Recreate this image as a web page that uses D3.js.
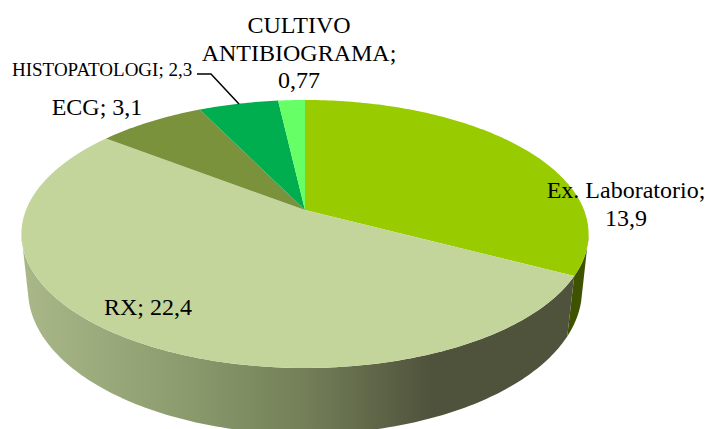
<!DOCTYPE html>
<html>
<head>
<meta charset="utf-8">
<script src="https://cdn.jsdelivr.net/npm/d3@7"></script>
<style>
body { margin: 0; background: #fff; }
text { font-family: "Liberation Serif", serif; fill: #000; }
</style>
</head>
<body>
<script>
//chart values
var categories = ['Ex. Laboratorio', 'RX', 'ECG', 'HISTOPATOLOGI', 'CULTIVO ANTIBIOGRAMA'];
var values = [13.9, 22.4, 3.1, 2.3, 0.77];
var value_labels = ['13,9', '22,4', '3,1', '2,3', '0,77'];
var top_colors = ['#99cc00', '#c3d59b', '#7a923c', '#00ae50', '#66ff66'];

//hardcoded parameters
var svg_width = 706, svg_height = 429;
var apex = [305, 210];
var rad_x = 279, rad_y = 129.7, persp = 0.179;
var base = {cx: 305, cy: 290, rx: 277, ry: 144};
var wall_shrink = 0.974;

var svg = d3.select('body').append('svg')
    .attr('width', svg_width)
    .attr('height', svg_height)
    .style('display', 'block');

//tilted circle -> screen, the apex sits above the ellipse centre
function project(angle) {
    var u = Math.sin(angle), v = -Math.cos(angle);
    var d = 1 - persp * v;
    return [apex[0] + rad_x * u / d, apex[1] + rad_y * v / d];
}
function arc_points(a0, a1) {
    var n = Math.max(2, Math.ceil((a1 - a0) * 60));
    return d3.range(n + 1).map(function(i) { return project(a0 + (a1 - a0) * i / n); });
}
var line = d3.line();

var slices = d3.pie().sort(null)(values);

//side gradient
var defs = svg.append('defs');
var grad = defs.append('linearGradient')
    .attr('id', 'side')
    .attr('gradientUnits', 'userSpaceOnUse')
    .attr('x1', 21).attr('x2', 589).attr('y1', 0).attr('y2', 0);
[[0, '#aab889'], [0.3, '#8a9a6c'], [0.5, '#737f58'], [0.72, '#50533c'], [1, '#50533c']].forEach(function(s) {
    grad.append('stop').attr('offset', s[0]).attr('stop-color', s[1]);
});

//angles where the top ellipse is widest, the wall starts there
var wide_v = 0.1863;
var wide_right = Math.acos(-wide_v);
var wide_left = 2 * Math.PI - wide_right;

//wall: rim of the top and the matching stretch of the lower ellipse
function wall(a0, a1, fill) {
    var top_rim = arc_points(a0, a1);
    var low_rim = top_rim.map(function(p) {
        var x = (p[0] - apex[0]) * wall_shrink;
        var t = Math.max(-1, Math.min(1, x / base.rx));
        return [base.cx + base.rx * t, base.cy + base.ry * Math.sqrt(1 - t * t)];
    }).reverse();
    svg.append('path').attr('d', line(top_rim.concat(low_rim)) + 'Z').attr('fill', fill);
}
wall(wide_right, slices[0].endAngle, '#3f5200');
wall(slices[1].startAngle, wide_left, 'url(#side)');

//top slices
svg.append('g').selectAll('path').data(slices).enter().append('path')
    .attr('d', function(d) {
        return line([apex].concat(arc_points(d.startAngle, d.endAngle))) + 'Z';
    })
    .attr('fill', function(d, i) { return top_colors[i]; });

//labels
function label(lines, x, y, size) {
    var t = svg.append('text').attr('text-anchor', 'middle').attr('font-size', size);
    lines.forEach(function(s, i) {
        t.append('tspan').attr('x', x).attr('y', y + i * 27.5).text(s);
    });
}
label([categories[0] + ';', value_labels[0]], 626, 198, 24);
label([categories[1] + '; ' + value_labels[1]], 148, 315, 24);
label([categories[2] + '; ' + value_labels[2]], 97, 115, 24);
label(['CULTIVO', 'ANTIBIOGRAMA;', value_labels[4]], 299, 33, 24);
svg.append('text').attr('x', 12).attr('y', 76).attr('font-size', 19)
    .text(categories[3] + '; ' + value_labels[3]);

//leader line
svg.append('path')
    .attr('d', line([[197, 74], [211, 74], [239, 104]]))
    .attr('fill', 'none').attr('stroke', '#000').attr('stroke-width', 1.5);
</script>
</body>
</html>
